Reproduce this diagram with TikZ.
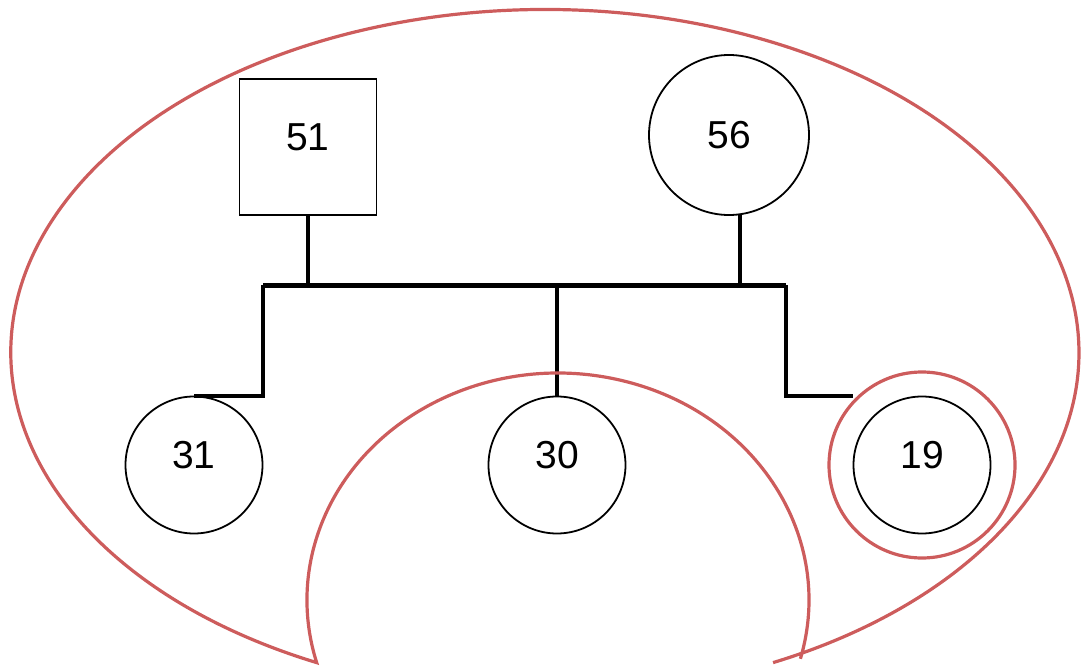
\documentclass[tikz,border=0pt]{standalone}
\usepackage{fontspec}
\setmainfont{Liberation Sans}
\usetikzlibrary{positioning,calc}
\definecolor{bubblered}{RGB}{205,92,92}

\begin{document}
\begin{tikzpicture}[x=1pt,y=-1pt,
  person/.style={draw,line width=1.8pt,fill=white,inner sep=0pt,
    font=\fontsize{39}{40}\selectfont,text height=28pt,text depth=22pt},
  male/.style={person,rectangle,minimum width=137pt,minimum height=136pt},
  female/.style={person,circle,minimum size=137pt},
  kin/.style={line width=4pt},
  bubble/.style={draw=bubblered,line width=3.2pt}]
  \useasboundingbox (0,0) rectangle (1081,666);

  \node[male] (f51) at (308,147) {51};                                % Father
  \node[female,minimum size=160pt,text depth=0pt] (m56) at (729,135) {56}; % Mother

  \node[female] (d31) at (194,465) {31};   % Daughters
  \node[female] (d30) at (557,465) {30};
  \node[female] (d19) at (922,465) {19};

  \coordinate (fam) at (557,285) ;  % Sibship line
  \coordinate (lft) at (263,285) ;
  \coordinate (rgt) at (786,285) ;

  \draw[kin] (f51.south) -- (f51.south |- fam) ;
  \draw[kin] (m56.-82) -- (m56.-82 |- fam) ;
  \draw[kin,line width=5pt] (lft) -- (rgt) ;

  \draw[kin] (lft) -- (lft |- d31.north) -- (d31.north) ;
  \draw[kin] (fam) -- (d30.north) ;
  \draw[kin] (rgt) -- (rgt |- d19.north) -- (d19.north -| d19.west) ;

  \draw[bubble] (d19.center) circle[radius=93pt] ; % Index person

  \coordinate (tail) at (800.4,658.8) ;  % Household boundary
  \draw[bubble] (tail) arc[start angle=15,end angle=-196,x radius=251,y radius=227]
    arc[start angle=115.3,end angle=424.7,x radius=534,y radius=343] ;
\end{tikzpicture}
\end{document}
